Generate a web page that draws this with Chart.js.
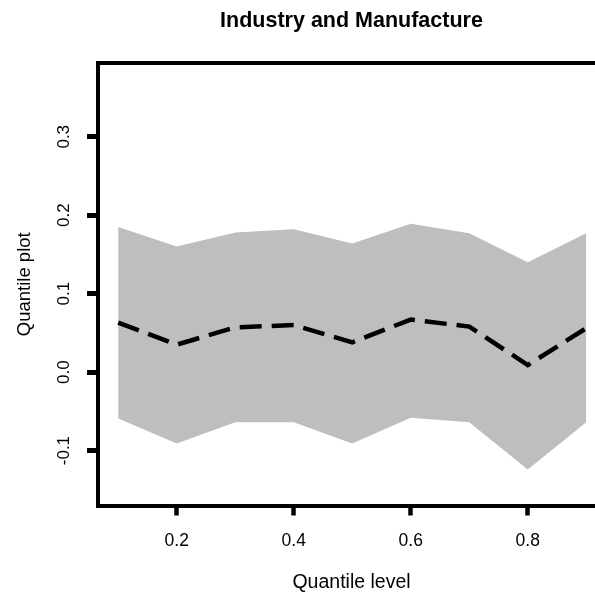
<!DOCTYPE html>
<html>
<head>
<meta charset="utf-8">
<title>Industry and Manufacture</title>
<script src="https://cdn.jsdelivr.net/npm/chart.js@4.4.1/dist/chart.umd.min.js"></script>
<style>
  html, body { margin: 0; padding: 0; background: #fff; overflow: hidden; }
  canvas { display: block; }
</style>
</head>
<body>
<canvas id="chart" width="612" height="594"></canvas>
<script>
// quantile levels and the estimated values
const quantiles = [0.1, 0.2, 0.3, 0.4, 0.5, 0.6, 0.7, 0.8, 0.9];
const medianVals = [0.063, 0.035, 0.057, 0.060, 0.038, 0.067, 0.058, 0.009, 0.056];
const lowerVals = [-0.059, -0.091, -0.064, -0.064, -0.091, -0.058, -0.064, -0.124, -0.064];
const upperVals = [0.185, 0.160, 0.178, 0.182, 0.164, 0.189, 0.177, 0.140, 0.177];

const xTicks = [0.2, 0.4, 0.6, 0.8];
const yTicks = [-0.1, 0.0, 0.1, 0.2, 0.3];

const toPoints = vals => quantiles.map((q, i) => ({ x: q, y: vals[i] }));

Chart.defaults.font.family = "'Liberation Sans', Arial, sans-serif";
Chart.defaults.color = '#000';

const ctx = document.getElementById('chart').getContext('2d');

new Chart(ctx, {
    type: 'line',
    data: {
        datasets: [
            {
                label: 'median',
                data: toPoints(medianVals),
                borderColor: '#000',
                borderWidth: 4.5,
                borderDash: [22, 10],
                borderCapStyle: 'butt',
                pointRadius: 0,
                fill: false,
                tension: 0,
                order: 0
            },
            {
                label: 'lower',
                data: toPoints(lowerVals),
                borderWidth: 0,
                borderColor: 'rgba(0,0,0,0)',
                pointRadius: 0,
                fill: false,
                order: 1
            },
            {
                label: 'upper',
                data: toPoints(upperVals),
                borderWidth: 0,
                borderColor: 'rgba(0,0,0,0)',
                backgroundColor: '#bebebe',
                pointRadius: 0,
                fill: 1,
                order: 2
            }
        ]
    },
    options: {
        responsive: false,
        animation: false,
        devicePixelRatio: 1,
        layout: { padding: { left: 0, right: 7, top: 0, bottom: 0 } },
        plugins: {
            legend: { display: false },
            tooltip: { enabled: false },
            title: {
                display: true,
                text: 'Industry and Manufacture',
                fullSize: false,
                font: { size: 21.5, weight: 'bold' },
                padding: { top: 8, bottom: 0 },
                color: '#000'
            }
        },
        scales: {
            x: {
                type: 'linear',
                position: 'bottom',
                min: 0.0655,
                max: 0.932,
                afterBuildTicks: scale => { scale.ticks = xTicks.map(v => ({ value: v })); },
                afterFit: scale => { scale.height = 88.5; },
                ticks: {
                    font: { size: 17.5 },
                    padding: 15,
                    maxRotation: 0,
                    callback: v => v.toFixed(1)
                },
                grid: {
                    drawOnChartArea: false,
                    drawTicks: true,
                    tickLength: 10,
                    tickWidth: 4.5,
                    tickColor: '#000'
                },
                border: { display: true, width: 4, color: '#000' },
                title: {
                    display: true,
                    text: 'Quantile level',
                    font: { size: 19.5 },
                    padding: { top: 0, bottom: 0 }
                }
            },
            x2: {
                type: 'linear',
                axis: 'x',
                position: 'top',
                afterFit: scale => { scale.height = 29.2; },
                ticks: { display: false },
                grid: { drawOnChartArea: false, drawTicks: false },
                border: { display: true, width: 4, color: '#000' }
            },
            y: {
                type: 'linear',
                position: 'left',
                min: -0.170,
                max: 0.394,
                afterBuildTicks: scale => { scale.ticks = yTicks.map(v => ({ value: v })); },
                afterFit: scale => { scale.width = 98; },
                ticks: {
                    font: { size: 17 },
                    padding: 8,
                    minRotation: 90,
                    maxRotation: 90,
                    crossAlign: 'center',
                    callback: v => v.toFixed(1)
                },
                grid: {
                    drawOnChartArea: false,
                    drawTicks: true,
                    tickLength: 11,
                    tickWidth: 5,
                    tickColor: '#000'
                },
                border: { display: true, width: 4, color: '#000' },
                title: {
                    display: true,
                    text: 'Quantile plot',
                    font: { size: 18.5 },
                    padding: { top: 14, bottom: 0 }
                }
            }
        }
    }
});
</script>
</body>
</html>
